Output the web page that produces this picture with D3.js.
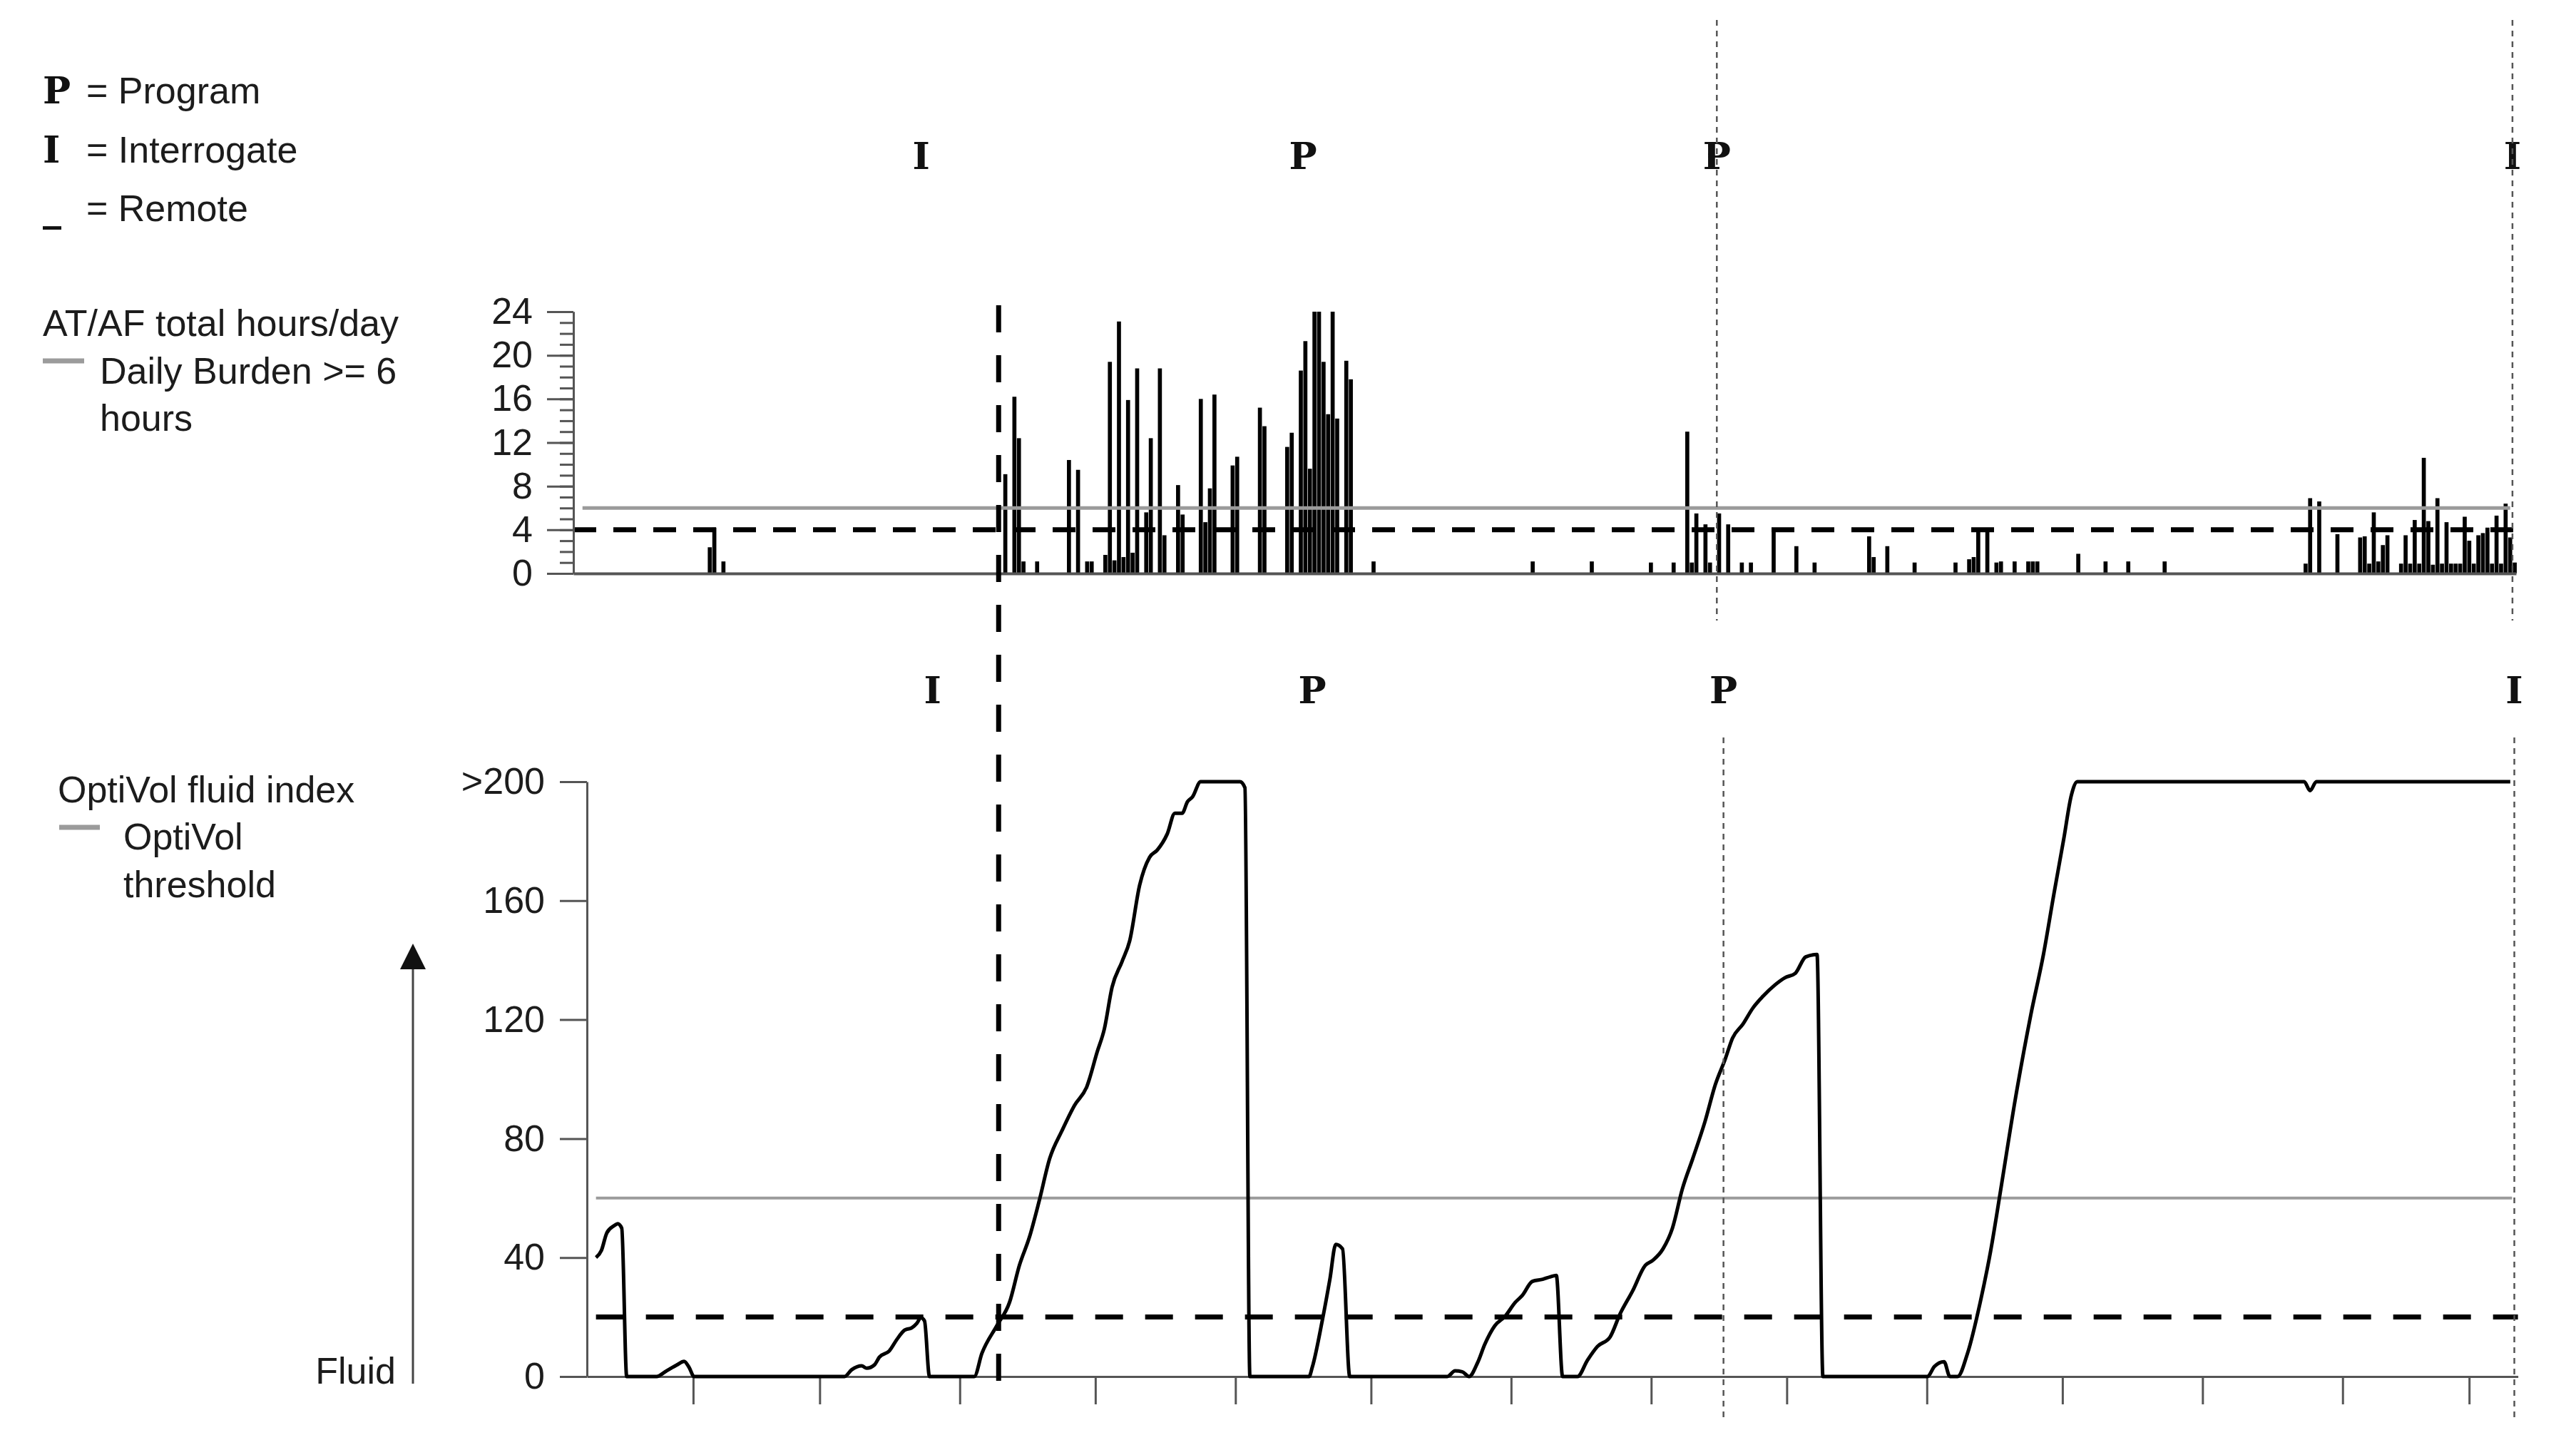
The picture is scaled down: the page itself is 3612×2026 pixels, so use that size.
<!DOCTYPE html>
<html>
<head>
<meta charset="utf-8">
<script src="https://cdn.jsdelivr.net/npm/d3@7"></script>
<style>
  html, body { margin: 0; padding: 0; background: #fff; }
  svg { display: block; }
  text { font-family: "Liberation Sans", Arial, sans-serif; fill: #1c1c1c; }
  .mk { font-family: "DejaVu Serif", "Liberation Mono", serif; font-weight: bold; fill: #111; }
</style>
</head>
<body>
<script>
// ---------------- data ----------------
// day offsets from Jan 1 of the first year
const domainDays = [7.5, 434.8];

// AT/AF total hours per day (top chart)
const afDays  = [37,38,40,102,104,105,106,109,116,118,120,121,124,125,126,127,128,129,130,131,133,134,136,137,140,141,
                 145,146,147,148,152,153,158,159,164,165,167,168,169,170,171,172,173,174,175,177,178,183,
                 218,231,244,249,252,253,254,256,257,259,261,264,266,271,276,280,292,293,296,302,311,314,315,316,318,
                 320,321,324,327,328,329,338,344,349,357,
                 388,389,391,395,400,401,402,403,404,405,406,409,410,411,412,413,414,415,416,417,418,419,420,421,422,
                 423,424,425,426,427,428,429,430,431,432,433,434];
const afHours = [2.4,4.2,1.1,9.1,16.2,12.4,1.1,1.1,10.4,9.5,1.1,1.1,1.7,19.4,1.2,23.1,1.5,15.9,1.9,18.8,5.6,12.4,18.8,3.5,8.1,5.4,
                 16.0,4.7,7.8,16.4,9.9,10.7,15.2,13.5,11.6,12.9,18.6,21.3,9.6,24,24,19.4,14.6,24,14.2,19.5,17.8,1.1,
                 1.1,1.1,1.0,1.0,13.0,1.0,5.5,4.5,1.0,5.5,4.5,1.0,1.0,3.9,2.5,1.0,3.4,1.5,2.5,1.0,1.0,1.3,1.5,3.8,4.0,
                 1.0,1.1,1.1,1.1,1.1,1.1,1.8,1.1,1.1,1.1,
                 0.9,6.9,6.6,3.6,3.3,3.4,0.9,5.6,1.1,2.6,3.5,0.9,3.5,0.9,4.9,0.9,10.6,4.8,0.8,6.9,0.9,4.7,0.9,0.9,0.9,
                 5.2,3.0,0.9,3.5,3.7,4.2,0.9,5.3,0.9,6.4,3.3,1.0];

// OptiVol fluid index (bottom chart)
const optiDays = [9.5,10.7,11.9,13.5,14.3,15.2,16.3,22.9,25.1,27.4,29.0,30.1,31.2,64.5,66.1,68.3,69.4,71.1,72.2,74.4,76.1,77.8,
                  79.4,80.5,81.4,82.2,83.3,93.2,94.9,98.2,101,103.2,105.4,107.6,109.9,112.6,115.4,118.1,120.4,122,123.7,
                  125.9,127.6,129.8,132,133.7,135.9,137.6,139.2,140.4,141.5,143.3,152,153.1,154.2,167.3,168,170.2,171.9,
                  173.2,174.7,176.3,197.9,199.6,201.2,202.7,204.6,206.2,208.4,210.7,212.9,214.5,216.7,219,220.6,222,223.4,
                  226.7,228.9,231.1,233.9,236.1,238.9,241.7,243.3,245.6,247.7,249.9,252.2,254.9,257.2,259.4,261,263.3,
                  265.5,267.7,270.4,272.6,274.9,277.2,279.7,281,304.1,305.7,307.8,309.1,310.8,313,315.8,318.1,320.3,
                  323.6,327,329.8,332.1,334.3,336,337.3,387.5,388.8,390.2,433.1];
const optiValues = [40,42.4,48.3,50.7,51.4,49.9,0,0,1.9,3.9,5.1,3.1,0,0,2.3,3.6,2.8,3.9,6.5,8.6,12.5,15.6,
                  16.4,17.9,19.8,18.7,0,0,7.8,17.1,24.9,37.4,46.8,59.2,73.3,82.6,91.2,97.4,109.1,116.9,130.9,
                  139.5,146.5,165.2,174.6,177,182.4,189.4,189.4,193.3,194.9,200,200,198,0,0,3.1,18.7,32.7,
                  44.4,42.9,0,0,1.9,1.6,0,4.7,10.9,17.1,20.3,24.9,27.3,32,32.7,33.5,34,0,
                  0,5.5,10.1,13.3,21,28.8,37.4,39,42.9,49.9,63.1,73.3,85.7,98.2,106.8,113.8,118.5,
                  123.9,127.8,131.7,134.1,135.6,141.1,141.9,0,0,3.4,5,0,0,7.8,24.9,42.1,62.4,
                  93.5,121.6,141.9,162.1,180.8,195.6,200,200,197,200,200];

// sessions: I = Interrogate, P = Program
const sessionDays  = [84, 168, 259, 434];
const sessionTypes = ["I", "P", "P", "I"];
const dottedDays   = [259, 434];
const crossingDay  = 98.6;          // OptiVol crossing day (dashed vertical)

const afTicksMajor = [0, 4, 8, 12, 16, 20, 24];
const afTicksMinor = d3.range(0, 25, 1);
const afThreshold = 6, afRefLine = 4;
const optiTicks = [0, 40, 80, 120, 160, 200];
const optiThreshold = 60, optiRefLine = 20;
const lineSpan = [9.5, 433.5];

// ---------------- setup ----------------
const W = 3612, H = 2026;
const base = Date.UTC(2013, 0, 1);
const dt = d => new Date(base + d * 864e5);

const svg = d3.select("body").append("svg").attr("width", W).attr("height", H);
svg.append("rect").attr("width", W).attr("height", H).attr("fill", "#fff");

const xTop = d3.scaleUtc().domain(domainDays.map(dt)).range([804, 3528]);
const xLow = d3.scaleUtc().domain(domainDays.map(dt)).range([823, 3530.6]);
const yTop = d3.scaleLinear().domain([0, 24]).range([804, 437]);
const yLow = d3.scaleLinear().domain([0, 200]).range([1930, 1096]);

const AX = "#555", GRAY = "#9b9b9b";

// ---------------- legend ----------------
const leg = svg.append("g");
const FS = 52;
[["P", "= Program", 145], ["I", "= Interrogate", 228], ["_", "= Remote", 310]].forEach(([s, t, y]) => {
  leg.append("text").attr("class", "mk").attr("x", 60).attr("y", y).attr("font-size", 52).text(s);
  leg.append("text").attr("x", 121).attr("y", y).attr("font-size", FS).text(t);
});
leg.append("text").attr("x", 60).attr("y", 471).attr("font-size", FS).text("AT/AF total hours/day");
leg.append("line").attr("x1", 60).attr("x2", 118).attr("y1", 506).attr("y2", 506).attr("stroke", GRAY).attr("stroke-width", 7);
leg.append("text").attr("x", 140).attr("y", 538).attr("font-size", FS).text("Daily Burden >= 6");
leg.append("text").attr("x", 140).attr("y", 604).attr("font-size", FS).text("hours");

leg.append("text").attr("x", 81).attr("y", 1125).attr("font-size", FS).text("OptiVol fluid index");
leg.append("line").attr("x1", 83).attr("x2", 140).attr("y1", 1160).attr("y2", 1160).attr("stroke", GRAY).attr("stroke-width", 7);
leg.append("text").attr("x", 173).attr("y", 1191).attr("font-size", FS).text("OptiVol");
leg.append("text").attr("x", 173).attr("y", 1258).attr("font-size", FS).text("threshold");

// Fluid arrow
leg.append("line").attr("x1", 579).attr("x2", 579).attr("y1", 1940).attr("y2", 1350).attr("stroke", "#444").attr("stroke-width", 3);
leg.append("path").attr("d", "M561,1359 L597,1359 L579,1323 Z").attr("fill", "#111");
leg.append("text").attr("x", 555).attr("y", 1940).attr("text-anchor", "end").attr("font-size", FS).text("Fluid");

// ---------------- top chart ----------------
const topG = svg.append("g");
const dayW = xTop(dt(9)) - xTop(dt(8));
topG.append("g").selectAll("rect").data(afDays.map((d, i) => ({ d, v: Math.min(afHours[i], 24) })))
  .join("rect")
  .attr("x", p => xTop(dt(p.d + 0.5)) - (dayW - 0.7) / 2)
  .attr("width", dayW - 0.7)
  .attr("y", p => yTop(p.v))
  .attr("height", p => yTop(0) - yTop(p.v))
  .attr("fill", "#000");

topG.append("line").attr("x1", xTop(dt(lineSpan[0]))).attr("x2", xTop(dt(lineSpan[1])))
  .attr("y1", yTop(afThreshold)).attr("y2", yTop(afThreshold)).attr("stroke", GRAY).attr("stroke-width", 5);
topG.append("line").attr("x1", xTop.range()[0]).attr("x2", xTop.range()[1])
  .attr("y1", yTop(afRefLine)).attr("y2", yTop(afRefLine)).attr("stroke", "#000").attr("stroke-width", 7)
  .attr("stroke-dasharray", "32,24");

const yMinor = topG.append("g").attr("transform", `translate(${xTop.range()[0]},0)`)
  .call(d3.axisLeft(yTop).tickValues(afTicksMinor).tickSize(19).tickSizeOuter(0).tickFormat(""));
const yMajor = topG.append("g").attr("transform", `translate(${xTop.range()[0]},0)`)
  .call(d3.axisLeft(yTop).tickValues(afTicksMajor).tickSize(37).tickSizeOuter(0).tickPadding(20));
[yMinor, yMajor].forEach(g => {
  g.selectAll("path,line").attr("stroke", AX).attr("stroke-width", 3);
  g.selectAll("text").attr("font-size", FS).attr("font-family", "Liberation Sans, Arial, sans-serif").attr("fill", "#1c1c1c");
});
const xTopAx = topG.append("g").attr("transform", `translate(0,${yTop(0)})`)
  .call(d3.axisBottom(xTop).tickValues([]).tickSizeOuter(0));
xTopAx.selectAll("path").attr("stroke", AX).attr("stroke-width", 4);

// ---------------- bottom chart ----------------
const lowG = svg.append("g");
lowG.append("line").attr("x1", xLow(dt(lineSpan[0]))).attr("x2", xLow(dt(lineSpan[1])))
  .attr("y1", yLow(optiThreshold)).attr("y2", yLow(optiThreshold)).attr("stroke", GRAY).attr("stroke-width", 4);
lowG.append("line").attr("x1", xLow(dt(lineSpan[0]))).attr("x2", xLow.range()[1])
  .attr("y1", yLow(optiRefLine)).attr("y2", yLow(optiRefLine)).attr("stroke", "#000").attr("stroke-width", 7)
  .attr("stroke-dasharray", "39,31");

const yLowAx = lowG.append("g").attr("transform", `translate(${xLow.range()[0]},0)`)
  .call(d3.axisLeft(yLow).tickValues(optiTicks).tickSize(38).tickSizeOuter(0).tickPadding(21)
    .tickFormat(v => v === 200 ? ">200" : String(v)));
yLowAx.selectAll("path,line").attr("stroke", AX).attr("stroke-width", 3);
yLowAx.selectAll("text").attr("font-size", FS).attr("font-family", "Liberation Sans, Arial, sans-serif").attr("fill", "#1c1c1c");

const xLowAx = lowG.append("g").attr("transform", `translate(0,${yLow(0)})`)
  .call(d3.axisBottom(xLow).ticks(d3.utcMonth.every(1)).tickSize(39).tickSizeOuter(0).tickFormat(""));
xLowAx.selectAll("path,line").attr("stroke", AX).attr("stroke-width", 3);

const lineGen = d3.line().x(p => xLow(dt(p.d))).y(p => yLow(p.v)).curve(d3.curveMonotoneX);
lowG.append("path").datum(optiDays.map((d, i) => ({ d, v: optiValues[i] })))
  .attr("d", lineGen).attr("fill", "none").attr("stroke", "#000").attr("stroke-width", 5)
  .attr("stroke-linejoin", "round");

// ---------------- annotations ----------------
const ann = svg.append("g");
sessionDays.forEach((d, i) => {
  ann.append("text").attr("class", "mk").attr("x", xTop(dt(d))).attr("y", 237)
    .attr("text-anchor", "middle").attr("font-size", 52).text(sessionTypes[i]);
  ann.append("text").attr("class", "mk").attr("x", xLow(dt(d))).attr("y", 986)
    .attr("text-anchor", "middle").attr("font-size", 52).text(sessionTypes[i]);
});
dottedDays.forEach(d => {
  ann.append("line").attr("x1", xTop(dt(d))).attr("x2", xTop(dt(d))).attr("y1", 28).attr("y2", 870)
    .attr("stroke", "#555").attr("stroke-width", 2.5).attr("stroke-dasharray", "8,7");
  ann.append("line").attr("x1", xLow(dt(d))).attr("x2", xLow(dt(d))).attr("y1", 1034).attr("y2", 1988)
    .attr("stroke", "#555").attr("stroke-width", 2.5).attr("stroke-dasharray", "8,7");
});
const xc = xLow(dt(crossingDay));
ann.append("line").attr("x1", xc).attr("x2", xc).attr("y1", 428).attr("y2", 1950)
  .attr("stroke", "#000").attr("stroke-width", 7).attr("stroke-dasharray", "38,32");
</script>
</body>
</html>
